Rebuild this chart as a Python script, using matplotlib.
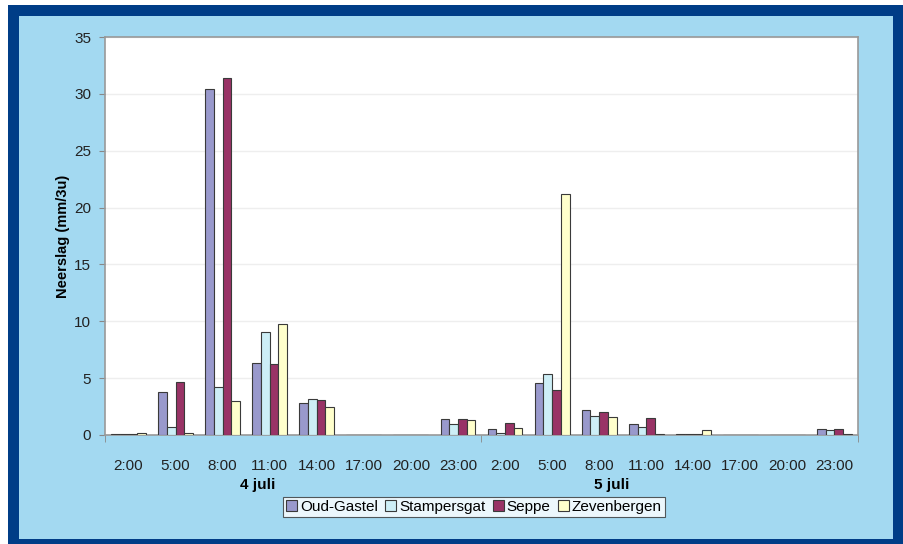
import numpy as np
import matplotlib
matplotlib.use("Agg")
import matplotlib.pyplot as plt
from matplotlib.patches import Rectangle

plt.rcParams['font.family'] = ['Liberation Sans', 'DejaVu Sans']

# time labels, 3-hour intervals over two days
hours = ['2:00', '5:00', '8:00', '11:00', '14:00', '17:00', '20:00', '23:00',
         '2:00', '5:00', '8:00', '11:00', '14:00', '17:00', '20:00', '23:00']
days = ['4 juli', '5 juli']

# rainfall (mm per 3 hours) per station
oud_gastel  = [0.1, 3.8, 30.4, 6.3, 2.8, 0, 0, 1.4, 0.5, 4.6, 2.2, 1.0, 0.1, 0, 0, 0.5]
stampersgat = [0.1, 0.7, 4.2, 9.1, 3.2, 0, 0, 1.0, 0.2, 5.4, 1.7, 0.7, 0.05, 0, 0, 0.4]
seppe       = [0.1, 4.7, 31.4, 6.2, 3.1, 0, 0, 1.4, 1.05, 3.95, 2.05, 1.5, 0.1, 0, 0, 0.5]
zevenbergen = [0.2, 0.2, 3.0, 9.8, 2.5, 0, 0, 1.3, 0.6, 21.2, 1.55, 0.1, 0.45, 0, 0, 0.1]

series = [('Oud-Gastel', oud_gastel, '#9999cc'),
          ('Stampersgat', stampersgat, '#cdeef6'),
          ('Seppe', seppe, '#993366'),
          ('Zevenbergen', zevenbergen, '#ffffcc')]

fig = plt.figure(figsize=(9.04, 5.44), dpi=100)
fig.patch.set_facecolor('white')

# dark blue frame with light blue panel
fig.patches.append(Rectangle((8/904, 0), 896/904, 539/544, transform=fig.transFigure,
                             facecolor='#003d87', edgecolor='none', zorder=-2))
fig.patches.append(Rectangle((19/904, 5/544), 874/904, 523/544, transform=fig.transFigure,
                             facecolor='#a3d9f1', edgecolor='none', zorder=-1))

ax = fig.add_axes([105/904, 109/544, 753/904, 398/544])
ax.set_facecolor('white')

x = np.arange(len(hours))
w = 0.185
for i, (name, vals, col) in enumerate(series):
    ax.bar(x + (i - 1.5) * w, vals, width=w, color=col, edgecolor='#3a3a3a',
           linewidth=0.8, label=name, zorder=3)

ax.set_xlim(-0.5, len(hours) - 0.5)
ax.set_ylim(0, 35)
ax.set_yticks(np.arange(0, 36, 5))
ax.yaxis.grid(True, color='#eeeeee', linewidth=1, zorder=0)

ax.set_xticks(x)
ax.set_xticklabels(hours, fontsize=11, color='#222222')
ax.tick_params(axis='x', which='major', length=0, pad=17)
ax.set_xticks(np.arange(-0.5, len(hours), 8), minor=True)
ax.tick_params(axis='x', which='minor', length=5, color='#888888', direction='out')
ax.tick_params(axis='y', labelsize=11, labelcolor='#222222', length=4, color='#888888', pad=6)

for s in ax.spines.values():
    s.set_color('#999999')
    s.set_linewidth(1.2)

ax.set_ylabel('Neerslag (mm/3u)', fontsize=10.5, fontweight='bold', labelpad=3)

# day labels beneath the hour labels
ax.text(2.75, -4.4, days[0], ha='center', va='center', fontsize=11, fontweight='bold')
ax.text(10.26, -4.4, days[1], ha='center', va='center', fontsize=11, fontweight='bold')

leg = fig.legend(loc='center', bbox_to_anchor=(474/904, 37/544), ncol=4, fontsize=11,
                 frameon=True, fancybox=False, handlelength=0.7, handleheight=0.7,
                 handletextpad=0.2, columnspacing=0.5, borderpad=0.2, borderaxespad=0)
leg.get_frame().set_edgecolor('#333333')
leg.get_frame().set_linewidth(0.8)

fig.savefig('out.png', dpi=100)
